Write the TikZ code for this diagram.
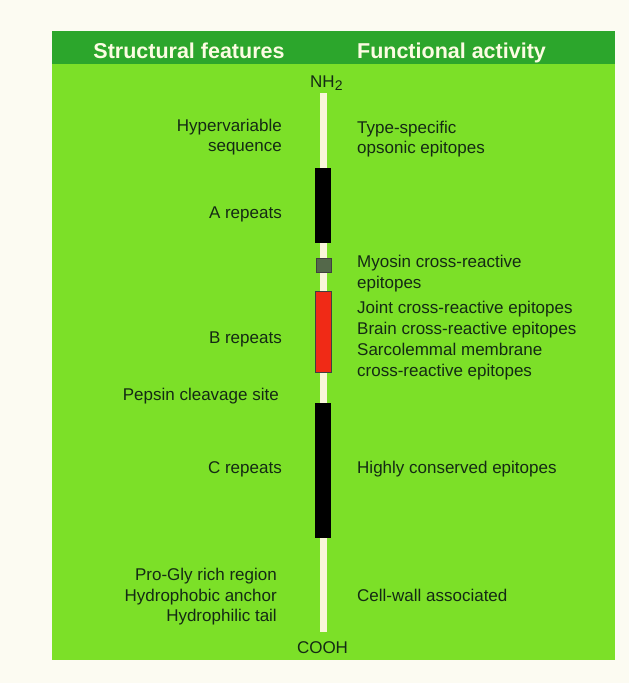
\documentclass[tikz,border=0pt]{standalone}
\usepackage{fontspec}
\setmainfont{Liberation Sans}
\usepackage{xcolor}
\usepackage{tikz}
\usetikzlibrary{positioning}

\definecolor{paper}{RGB}{252,251,242}
\definecolor{lime}{RGB}{124,224,40}
\definecolor{headgreen}{RGB}{44,166,44}
\definecolor{headtxt}{RGB}{252,252,226}
\definecolor{ink}{RGB}{20,42,20}
\definecolor{rodcol}{RGB}{250,246,218}
\definecolor{myocol}{RGB}{84,104,74}
\definecolor{redseg}{RGB}{240,42,22}

\begin{document}
\begin{tikzpicture}[x=1pt,y=-1pt,
						lbl/.style={font=\fontsize{17}{21}\selectfont, text=ink, inner sep=0pt},
						lft/.style={lbl, anchor=base east},
						rgt/.style={lbl, anchor=base west},
						head/.style={font=\bfseries\fontsize{21.5}{26}\selectfont, text=headtxt, inner sep=0pt, anchor=base},
						seg/.style={minimum width=16pt, inner sep=0pt, line width=0.8pt},
						rod/.style={rodcol, line width=7pt}
						]
						\useasboundingbox[fill=paper] (0,0) rectangle (629,683);
						\fill[lime] (52,31) rectangle (615,660);
						\fill[headgreen] (52,31) rectangle (615,64);
						
						% header
						\node[head] (hstruct) at (189,58) {Structural features};
						\node[head] (hfunc) at (451.5,58) {Functional activity};
						
						% rod and its segments
						\coordinate (rodtop) at (323.5,93);
						\coordinate (rodbot) at (323.5,632);
						\draw[rod] (rodtop) -- (rodbot);
						\node[seg, fill=black, minimum height=75pt] (arep) at (323,205.5) {};
						\node[seg, fill=myocol, draw=black!75, minimum width=15pt, minimum height=14pt] (myo) at (323.5,265) {};
						\node[seg, fill=redseg, draw=black!75, minimum height=81pt] (brep) at (323,331.5) {};
						\node[seg, fill=black, minimum height=135pt] (crep) at (323,470.5) {};
						
						\node[lbl, anchor=base west] (nh) at (310,87) {NH\raisebox{-0.4ex}{\fontsize{14}{14}\selectfont 2}};
						\node[lbl, anchor=base] (cooh) at (322.5,653) {COOH};
						
						% structural features
						\node[lft] (hyper1) at (282,131) {Hypervariable};
						\node[lft] (hyper2) at (282,151) {sequence};
						\node[lft] (arepl) at (282,218) {A repeats};
						\node[lft] (brepl) at (282,343) {B repeats};
						\node[lft] (pepsin) at (279,400) {Pepsin cleavage site};
						\node[lft] (crepl) at (282,473) {C repeats};
						\node[lft] (progly) at (277,580) {Pro-Gly rich region};
						\node[lft] (phob) at (277,601) {Hydrophobic anchor};
						\node[lft] (phil) at (277,621) {Hydrophilic tail};
						
						% functional activity
						\node[rgt] (type1) at (357,133) {Type-specific};
						\node[rgt] (type2) at (357,153) {opsonic epitopes};
						\node[rgt] (myo1) at (357,267) {Myosin cross-reactive};
						\node[rgt] (myo2) at (357,288) {epitopes};
						\node[rgt] (joint) at (357,313) {Joint cross-reactive epitopes};
						\node[rgt] (brain) at (357,334) {Brain cross-reactive epitopes};
						\node[rgt] (sarco1) at (357,355) {Sarcolemmal membrane};
						\node[rgt] (sarco2) at (357,376) {cross-reactive epitopes};
						\node[rgt] (cons) at (357,473) {Highly conserved epitopes};
						\node[rgt] (wall) at (357,601) {Cell-wall associated};
					\end{tikzpicture}
\end{document}
